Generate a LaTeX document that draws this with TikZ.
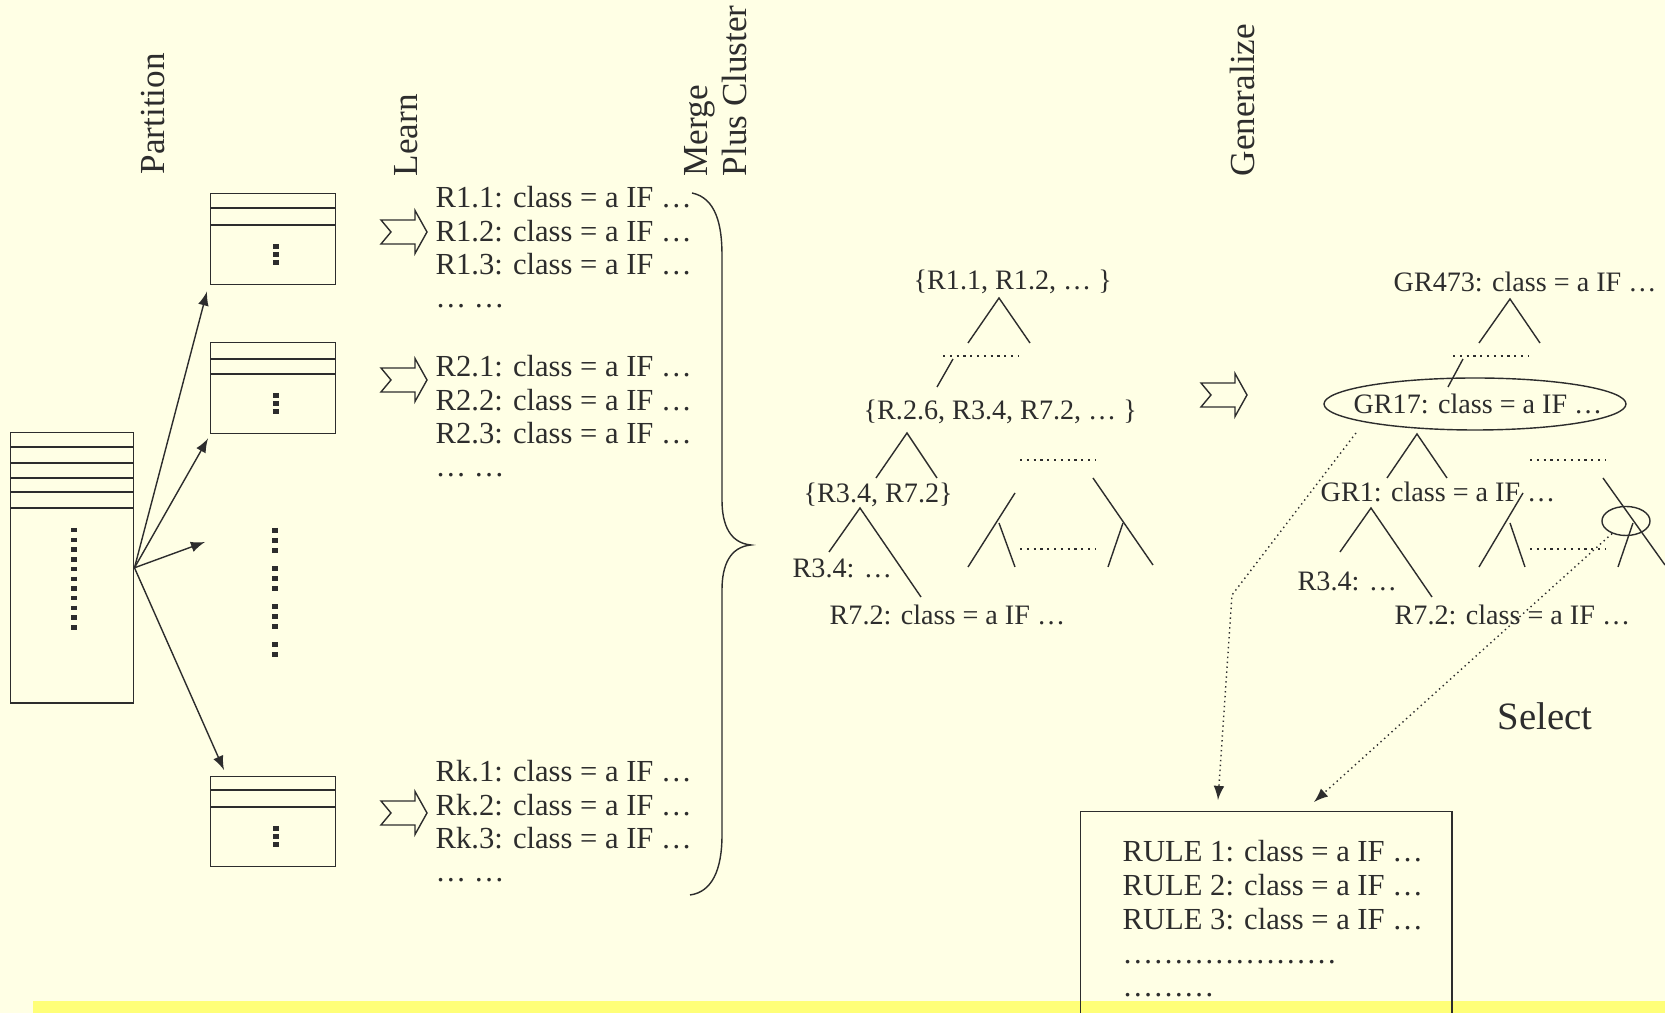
\documentclass[tikz,border=0pt]{standalone}
\usepackage{fontspec}
\setmainfont{Liberation Serif}
\usetikzlibrary{shapes.geometric}

\definecolor{paper}{RGB}{255,255,229}
\definecolor{band}{RGB}{255,255,120}
\definecolor{ink}{RGB}{45,45,45}

\begin{document}
\begin{tikzpicture}[x=0.01cm,y=-0.01cm,thin,color=ink,>=latex,
  rules/.style={anchor=base west,inner sep=0pt,align=left,font=\fontsize{8.7}{9.5}\selectfont},
  treetext/.style={anchor=base west,inner sep=0pt,font=\fontsize{8}{9}\selectfont},
  steplabel/.style={rotate=90,anchor=base west,inner sep=0pt,font=\fontsize{10}{12}\selectfont},
  tablebox/.style={draw,anchor=north west,inner sep=0pt,minimum width=1.25cm},
  dotrow/.style={line width=0.28mm,dash pattern=on 0.22mm off 0.46mm},
  bigdots/.style={line width=0.65mm,dash pattern=on 0.45mm off 0.52mm},
  smalldots/.style={line width=0.6mm,dash pattern=on 0.5mm off 0.3mm},
  selectline/.style={densely dotted,->},
  learnarrow/.pic={\draw[fill=paper] (0,-12)--(34,-12)--(34,-21.5)--(46,0)--(34,21.5)--(34,12)--(0,12)--(10,0)--cycle;}]
\useasboundingbox (0,0) rectangle (1665,1013);
\fill[paper] (0,0) rectangle (1665,1013);
\fill[band] (33,1001) rectangle (1665,1013);

% step names
\node[steplabel] (partition) at (164,175) {Partition};
\node[steplabel] (learn) at (417,177) {Learn};
\node[steplabel] (merge) at (707,177) {Merge};
\node[steplabel] (plus) at (746,177) {Plus Cluster};
\node[steplabel] (generalize) at (1254,177) {Generalize};

% data table and its parts
\node[draw,anchor=north west,inner sep=0pt,minimum width=1.23cm,minimum height=2.7cm] (data) at (10,432) {};
\draw (10,447)--(133,447); \draw (10,463)--(133,463); \draw (10,478)--(133,478);
\draw (10,492)--(133,492); \draw (10,508)--(133,508);
\draw[bigdots] (74,528)--(74,631);

\node[tablebox,minimum height=0.91cm] (part1) at (210,193) {};
\draw (210,208)--(335,208); \draw (210,225)--(335,225);
\draw[smalldots] (276,244)--(276,266);
\node[tablebox,minimum height=0.91cm] (part2) at (210,342) {};
\draw (210,359)--(335,359); \draw (210,374)--(335,374);
\draw[smalldots] (276,393)--(276,415);
\node[tablebox,minimum height=0.9cm] (part3) at (210,776) {};
\draw (210,790)--(335,790); \draw (210,807)--(335,807);
\draw[smalldots] (276,826)--(276,848);
\draw[line width=0.6mm,dash pattern=on 0.5mm off 0.5mm on 0.5mm off 0.5mm on 0.5mm off 1.3mm] (275,528)--(275,657);

\coordinate (gap) at (205,542);
\draw[->] (data.east)--([shift={(-3,6)}]part1.south west);
\draw[->] (data.east)--([shift={(-2,4)}]part2.south west);
\draw[->] (data.east)--(gap);
\draw[->] (data.east)--([shift={(14,-6)}]part3.north west);

% learned rules (anchored at the last line)
\pic at (381,232) {learnarrow};
\pic at (381,380) {learnarrow};
\pic at (381,813) {learnarrow};
\node[rules] (list1) at (435,308) {R1.1: class = a IF …\\R1.2: class = a IF …\\R1.3: class = a IF …\\… …};
\node[rules] (list2) at (435,477) {R2.1: class = a IF …\\R2.2: class = a IF …\\R2.3: class = a IF …\\… …};
\node[rules] (listk) at (435,882) {Rk.1: class = a IF …\\Rk.2: class = a IF …\\Rk.3: class = a IF …\\… …};
\draw (692,193) .. controls (716,198) and (722,225) .. (722,255)--(722,500)
  .. controls (722,525) and (730,543) .. (751,545) .. controls (730,547) and (722,565) .. (722,590)
  --(722,835) .. controls (722,870) and (712,892) .. (690,895);

% cluster tree
\node[treetext] (top) at (913,290) {\{R1.1, R1.2, … \}};
\draw (968,343)--(999,298)--(1030,343);
\draw[dotrow] (943,356)--(1018,356);
\draw (953,359)--(937,387);
\node[treetext] (mid) at (863,420) {\{R.2.6, R3.4, R7.2, … \}};
\draw (876,478)--(907,433)--(937,478);
\draw[dotrow] (1020,460)--(1096,460);
\node[treetext] (pair) at (803,503) {\{R3.4, R7.2\}};
\draw (829,552)--(860,508)--(921,597);
\node[treetext] (leafa) at (792,578) {R3.4: …};
\node[treetext] (leafb) at (829,625) {R7.2: class = a IF …};
\draw (1015,493)--(968,567); \draw (999,523)--(1015,567);
\draw[dotrow] (1020,549)--(1096,549);
\draw (1093,478)--(1153,565); \draw (1123,523)--(1108,567);

\pic at (1201,395) {learnarrow};

% generalized tree
\node[treetext] (gtop) at (1393,292) {GR473: class = a IF …};
\draw (1479,343)--(1510,299)--(1540,343);
\draw[dotrow] (1453,356)--(1528,356);
\draw (1463,359)--(1448,387);
\node[treetext,anchor=base] (gr17) at (1478,414) {GR17: class = a IF …};
\draw (1475,404) ellipse [x radius=151,y radius=26];
\draw (1387,478)--(1417,434)--(1447,478);
\draw[dotrow] (1530,460)--(1606,460);
\node[treetext] (gr1) at (1320,502) {GR1: class = a IF …};
\draw (1340,552)--(1371,508)--(1432,597);
\node[treetext] (gleafa) at (1297,591) {R3.4: …};
\node[treetext] (gleafb) at (1394,625) {R7.2: class = a IF …};
\draw (1523,493)--(1479,567); \draw (1510,523)--(1525,567);
\draw[dotrow] (1530,549)--(1606,549);
\draw (1603,478)--(1665,565); \draw (1633,523)--(1618,567);
\node[draw,ellipse,inner sep=0pt,minimum width=0.48cm,minimum height=0.29cm] (pick) at (1626,521) {};

% selection
\node[font=\fontsize{11}{13}\selectfont,anchor=base west,inner sep=0pt] (select) at (1497,730) {Select};
\node[draw,anchor=north west,inner sep=0pt,minimum width=3.71cm,minimum height=2.1cm] (ruleset) at (1080,811) {};
\node[rules,font=\fontsize{8.7}{9.6}\selectfont] (final) at (1122,997) {RULE 1: class = a IF …\\RULE 2: class = a IF …\\RULE 3: class = a IF …\\{…}{…}{…}{…}{…}{…}{…}\\{…}{…}{…}};
\coordinate (from17) at (1356,433);
\coordinate (bend) at (1232,595);
\coordinate (in1) at (1218,800);
\coordinate (in2) at (1314,802);
\draw[selectline] (from17)--(bend)--(in1);
\draw[selectline] (pick)--(in2);
\end{tikzpicture}
\end{document}
